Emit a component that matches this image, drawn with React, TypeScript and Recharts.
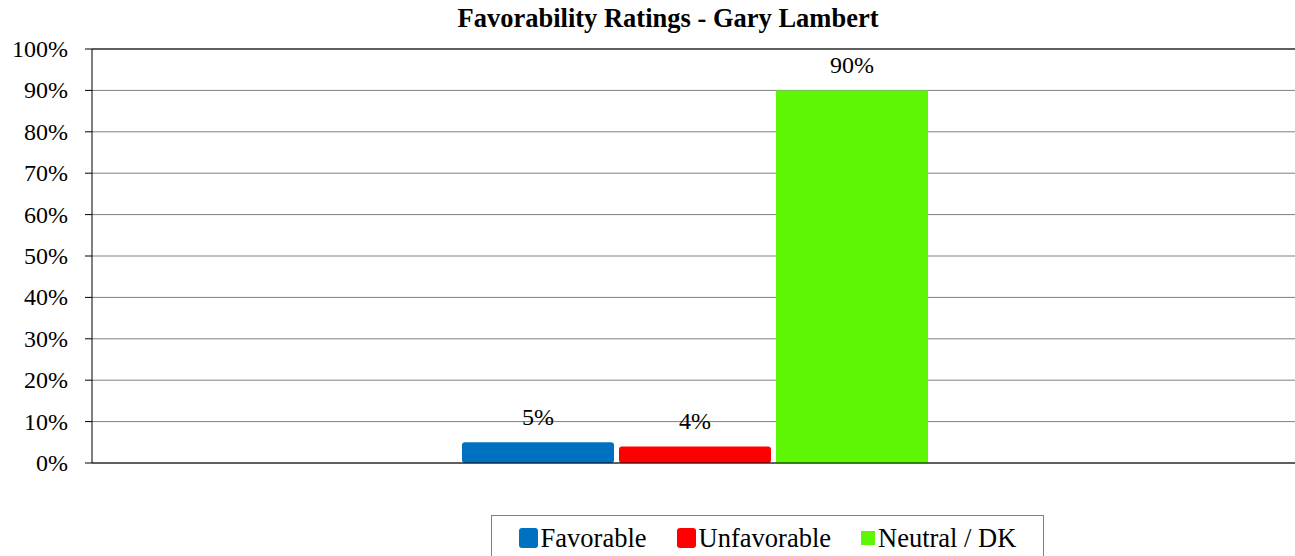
import React from 'react';
import { BarChart, Bar, XAxis, YAxis, CartesianGrid, ReferenceLine, Legend, LabelList } from 'recharts';

const chartTitle = 'Favorability Ratings - Gary Lambert';
const categories = ['Gary Lambert'];
const seriesNames = ['Favorable', 'Unfavorable', 'Neutral / DK'];
const seriesValues = [0.05, 0.04, 0.9];
const yTicks = [0, 0.1, 0.2, 0.3, 0.4, 0.5, 0.6, 0.7, 0.8, 0.9, 1];

const colors = ['#0070C0', '#FF0000', '#5DF705'];
const serif = "'Liberation Serif', 'Times New Roman', serif";

const data = categories.map((name) => {
  const row: Record<string, string | number> = { name };
  seriesNames.forEach((s, i) => {
    row[s] = seriesValues[i];
  });
  return row;
});

const pct = (v: number) => `${Math.round(v * 100)}%`;

const YTick = (props: any) => {
  const { x, y, payload } = props;
  return (
    <text x={x} y={y} dy={8} textAnchor="end" fill="#000" style={{ fontFamily: serif, fontSize: 24 }}>
      {pct(payload.value)}
    </text>
  );
};

const BarLabel = (props: any) => {
  const { x, y, width, value } = props;
  return (
    <text x={x + width / 2} y={y - 17} textAnchor="middle" fill="#000" style={{ fontFamily: serif, fontSize: 24 }}>
      {pct(Number(value))}
    </text>
  );
};

const LegendBox = () => (
  <div
    style={{
      boxSizing: 'border-box',
      width: 553,
      height: 45,
      border: '1px solid #808080',
      display: 'flex',
      alignItems: 'flex-start',
      justifyContent: 'center',
      paddingTop: 9,
      fontFamily: serif,
      fontSize: 26.5,
      color: '#000',
      background: '#fff',
    }}
  >
    {seriesNames.map((s, i) => (
      <div key={s} style={{ display: 'flex', alignItems: 'center', marginLeft: i === 0 ? 0 : 30, lineHeight: '26px' }}>
        <span
          style={{
            display: 'inline-block',
            width: i === 2 ? 14 : 19,
            height: i === 2 ? 14 : 20,
            background: colors[i],
            borderRadius: i === 2 ? 0 : 3,
            marginRight: 3,
          }}
        />
        <span>{s}</span>
      </div>
    ))}
  </div>
);

export default function App() {
  return (
    <div
      style={{
        position: 'absolute',
        left: 0,
        top: 0,
        width: 1295,
        height: 556,
        background: '#fff',
        fontFamily: serif,
      }}
    >
      <div
        style={{
          position: 'absolute',
          left: 0,
          top: 3,
          width: 1336,
          textAlign: 'center',
          fontFamily: serif,
          fontWeight: 'bold',
          fontSize: 26.5,
          zIndex: 2,
        }}
      >
        {chartTitle}
      </div>
      <BarChart
        width={1295}
        height={556}
        data={data}
        margin={{ top: 49, right: -3, left: 0, bottom: 0 }}
        barSize={152}
        barGap={5}
      >
        <CartesianGrid vertical={false} stroke="#808080" strokeWidth={1} />
        <XAxis dataKey="name" tick={false} tickLine={false} axisLine={{ stroke: '#000' }} height={48} />
        <YAxis
          domain={[0, 1]}
          ticks={yTicks}
          width={92}
          tickSize={7}
          tickMargin={17}
          axisLine={{ stroke: '#000' }}
          tickLine={{ stroke: '#000' }}
          tick={<YTick />}
          interval={0}
        />
        <ReferenceLine y={1} stroke="#000" />
        <Legend
          verticalAlign="bottom"
          content={() => <LegendBox />}
          wrapperStyle={{ left: 491, top: 515, width: 553 }}
        />
        {seriesNames.map((s, i) => (
          <Bar
            key={s}
            dataKey={s}
            fill={colors[i]}
            radius={i === 2 ? 0 : 3}
            isAnimationActive={false}
          >
            <LabelList dataKey={s} content={<BarLabel />} />
          </Bar>
        ))}
      </BarChart>
    </div>
  );
}
